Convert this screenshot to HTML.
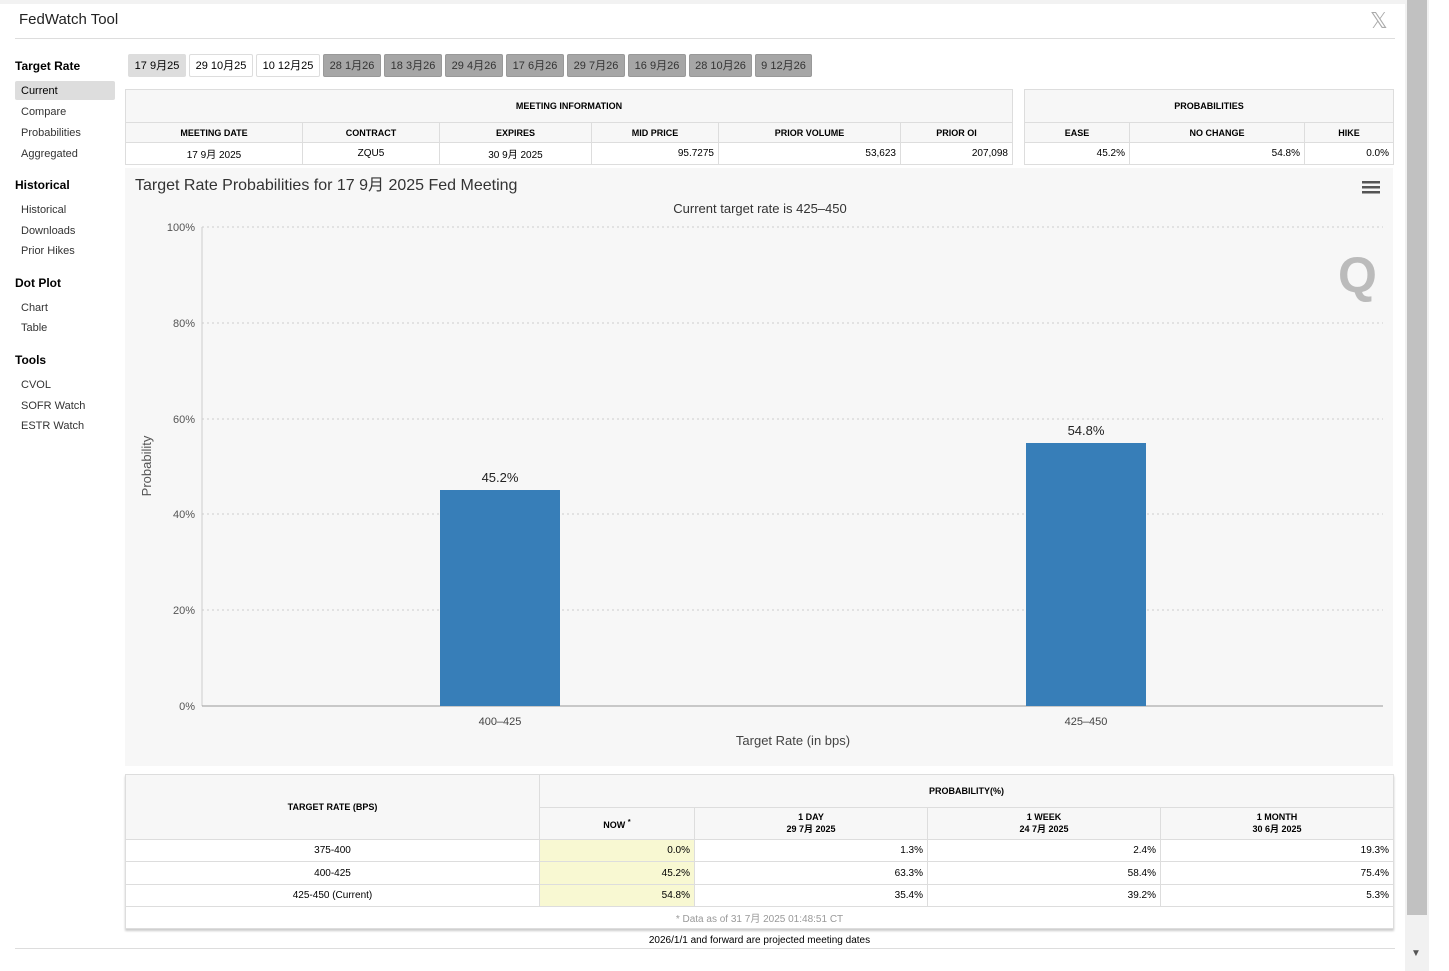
<!DOCTYPE html>
<html><head><meta charset="utf-8"><style>
body{margin:0;width:1449px;height:971px;position:relative;background:#fff;font-family:"Liberation Sans","Noto Sans CJK SC",sans-serif;overflow:hidden;color:#000}
.a{position:absolute}
.nav{font-size:11px;color:#333}
.navh{font-size:12px;font-weight:bold;color:#000}
.tab{position:absolute;top:54px;height:23px;line-height:23px;font-size:11px;text-align:center;border-radius:2px;box-sizing:border-box}
.tab.g{background:#a6a6a6;border:1px solid #999;color:#333}
.tab.w{background:#fff;border:1px solid #ddd}
table{border-collapse:collapse;position:absolute;font-size:10px}
td{border:1px solid #ddd;padding:0 4px;box-sizing:border-box}
.h{background:#f7f7f7;font-weight:bold;text-align:center;font-size:9px}
.r{text-align:right}.c{text-align:center}
.y{background:#f8f8d2}
</style></head><body>
<div class="a" style="left:0;top:0;width:1405px;height:4px;background:#f2f2f2"></div>
<div class="a" style="left:19px;top:11px;font-size:15px;color:#222">FedWatch Tool</div>
<div class="a" style="left:1370px;top:8px;font-size:22px;color:#aaa">𝕏</div>
<div class="a" style="left:15px;top:38px;width:1380px;height:1px;background:#ddd"></div>
<div class="a" style="left:1405px;top:0;width:24px;height:971px;background:#f1f1f1"></div>
<div class="a" style="left:1407px;top:0;width:20px;height:915px;background:#c1c1c1"></div>
<div class="a" style="left:1411px;top:948px;font-size:10px;color:#555">▼</div>

<div class="a navh" style="left:15px;top:59px">Target Rate</div>
<div class="a" style="left:15px;top:81px;width:100px;height:19px;background:#ddd;border-radius:2px"></div>
<div class="a nav" style="left:21px;top:85px;color:#000">Current</div>
<div class="a nav" style="left:21px;top:106px">Compare</div>
<div class="a nav" style="left:21px;top:127px">Probabilities</div>
<div class="a nav" style="left:21px;top:148px">Aggregated</div>
<div class="a navh" style="left:15px;top:178px">Historical</div>
<div class="a nav" style="left:21px;top:204px">Historical</div>
<div class="a nav" style="left:21px;top:225px">Downloads</div>
<div class="a nav" style="left:21px;top:245px">Prior Hikes</div>
<div class="a navh" style="left:15px;top:276px">Dot Plot</div>
<div class="a nav" style="left:21px;top:302px">Chart</div>
<div class="a nav" style="left:21px;top:322px">Table</div>
<div class="a navh" style="left:15px;top:353px">Tools</div>
<div class="a nav" style="left:21px;top:379px">CVOL</div>
<div class="a nav" style="left:21px;top:400px">SOFR Watch</div>
<div class="a nav" style="left:21px;top:420px">ESTR Watch</div>

<div class="tab" style="left:128px;width:58px;background:#ddd;border:1px solid #ddd">17 9月25</div>
<div class="tab w" style="left:189px;width:64px">29 10月25</div>
<div class="tab w" style="left:256px;width:64px">10 12月25</div>
<div class="tab g" style="left:323px;width:58px">28 1月26</div>
<div class="tab g" style="left:384px;width:58px">18 3月26</div>
<div class="tab g" style="left:445px;width:58px">29 4月26</div>
<div class="tab g" style="left:506px;width:58px">17 6月26</div>
<div class="tab g" style="left:567px;width:58px">29 7月26</div>
<div class="tab g" style="left:628px;width:58px">16 9月26</div>
<div class="tab g" style="left:689px;width:63px">28 10月26</div>
<div class="tab g" style="left:755px;width:57px">9 12月26</div>

<table style="left:125px;top:89px;width:888px">
<tr style="height:33px"><td colspan="6" class="h">MEETING INFORMATION</td></tr>
<tr style="height:20px"><td class="h" style="width:177px">MEETING DATE</td><td class="h" style="width:137px">CONTRACT</td><td class="h" style="width:152px">EXPIRES</td><td class="h" style="width:127px">MID PRICE</td><td class="h" style="width:182px">PRIOR VOLUME</td><td class="h">PRIOR OI</td></tr>
<tr style="height:22px"><td class="c">17 9月 2025</td><td class="c">ZQU5</td><td class="c">30 9月 2025</td><td class="r">95.7275</td><td class="r">53,623</td><td class="r">207,098</td></tr>
</table>
<table style="left:1024px;top:89px;width:370px">
<tr style="height:33px"><td colspan="3" class="h">PROBABILITIES</td></tr>
<tr style="height:20px"><td class="h" style="width:105px">EASE</td><td class="h" style="width:175px">NO CHANGE</td><td class="h">HIKE</td></tr>
<tr style="height:22px"><td class="r">45.2%</td><td class="r">54.8%</td><td class="r">0.0%</td></tr>
</table>

<div class="a" style="left:125px;top:168px;width:1268px;height:598px;background:#f7f7f7"></div>
<svg class="a" style="left:0;top:0" width="1449" height="971" font-family="Liberation Sans,sans-serif">
<text x="135" y="190" font-size="16" fill="#333">Target Rate Probabilities for 17 9月 2025 Fed Meeting</text>
<text x="760" y="213" font-size="13" fill="#333" text-anchor="middle">Current target rate is 425–450</text>
<g fill="#555"><rect x="1362" y="181" width="18" height="2.5"/><rect x="1362" y="186" width="18" height="2.5"/><rect x="1362" y="191" width="18" height="2.5"/></g>
<text x="1338" y="292" font-size="50" font-weight="bold" fill="#bbb">Q</text>
<g stroke="#ccc" stroke-dasharray="2,3">
<line x1="202" y1="227" x2="1383" y2="227"/><line x1="202" y1="323" x2="1383" y2="323"/><line x1="202" y1="419" x2="1383" y2="419"/><line x1="202" y1="514" x2="1383" y2="514"/><line x1="202" y1="610" x2="1383" y2="610"/></g>
<line x1="202" y1="227" x2="202" y2="706" stroke="#ccc"/>
<line x1="202" y1="706" x2="1383" y2="706" stroke="#999"/>
<g font-size="11" fill="#555" text-anchor="end"><text x="195" y="231">100%</text><text x="195" y="327">80%</text><text x="195" y="423">60%</text><text x="195" y="518">40%</text><text x="195" y="614">20%</text><text x="195" y="710">0%</text></g>
<rect x="440" y="490" width="120" height="216" fill="#377eb8"/>
<rect x="1026" y="443" width="120" height="263" fill="#377eb8"/>
<text x="500" y="482" font-size="13" text-anchor="middle" fill="#222">45.2%</text>
<text x="1086" y="435" font-size="13" text-anchor="middle" fill="#222">54.8%</text>
<text x="500" y="725" font-size="11" text-anchor="middle" fill="#444">400–425</text>
<text x="1086" y="725" font-size="11" text-anchor="middle" fill="#444">425–450</text>
<text x="793" y="745" font-size="13" text-anchor="middle" fill="#444">Target Rate (in bps)</text>
<text transform="translate(151,466) rotate(-90)" font-size="13" text-anchor="middle" fill="#555">Probability</text>
</svg>

<table style="left:125px;top:774px;width:1269px;box-shadow:0 2px 2px #ccc">
<tr style="height:33px"><td rowspan="2" class="h" style="width:414px">TARGET RATE (BPS)</td><td colspan="4" class="h">PROBABILITY(%)</td></tr>
<tr style="height:32px"><td class="h" style="width:155px">NOW <sup>*</sup></td><td class="h" style="width:233px">1 DAY<br>29 7月 2025</td><td class="h" style="width:233px">1 WEEK<br>24 7月 2025</td><td class="h">1 MONTH<br>30 6月 2025</td></tr>
<tr style="height:22px"><td class="c">375-400</td><td class="r y">0.0%</td><td class="r">1.3%</td><td class="r">2.4%</td><td class="r">19.3%</td></tr>
<tr style="height:23px"><td class="c">400-425</td><td class="r y">45.2%</td><td class="r">63.3%</td><td class="r">58.4%</td><td class="r">75.4%</td></tr>
<tr style="height:22px"><td class="c">425-450 (Current)</td><td class="r y">54.8%</td><td class="r">35.4%</td><td class="r">39.2%</td><td class="r">5.3%</td></tr>
<tr style="height:22px"><td colspan="5" class="c" style="color:#999">* Data as of 31 7月 2025 01:48:51 CT</td></tr>
</table>
<div class="a" style="left:125px;top:935px;width:1269px;text-align:center;font-size:10px">2026/1/1 and forward are projected meeting dates</div>
<div class="a" style="left:15px;top:948px;width:1380px;height:1px;background:#ddd"></div>
</body></html>
